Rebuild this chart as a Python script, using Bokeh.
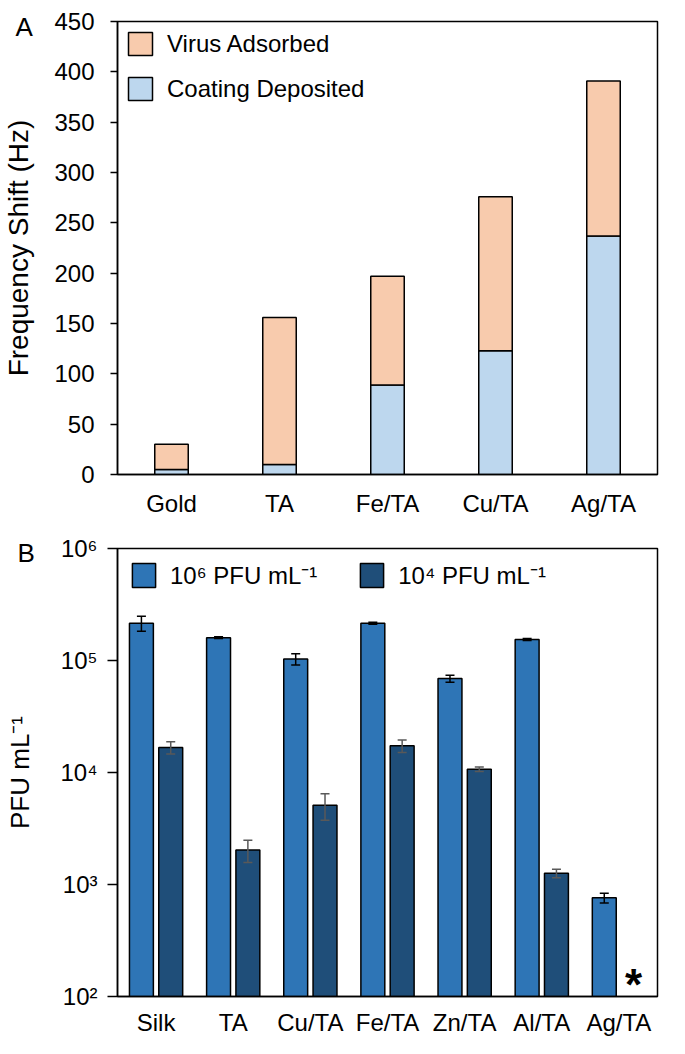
import math
from bokeh.plotting import figure
from bokeh.models import (ColumnDataSource, FixedTicker, Legend, LegendItem)
from bokeh.transform import dodge
from bokeh.layouts import column
from bokeh.embed import file_html
from bokeh.resources import INLINE
from bokeh.core.properties import value

FONT = "Liberation Sans"

# ---------------- Panel A data ----------------
a_categories = ["Gold", "TA", "Fe/TA", "Cu/TA", "Ag/TA"]
a_coating = [5, 10, 89, 123, 237]
a_virus = [25, 146, 108, 153, 154]
a_yticks = [0, 50, 100, 150, 200, 250, 300, 350, 400, 450]
a_series_labels = ["Virus Adsorbed", "Coating Deposited"]

# ---------------- Panel B data ----------------
b_categories = ["Silk", "TA", "Cu/TA", "Fe/TA", "Zn/TA", "Al/TA", "Ag/TA"]
b_high = [2.15e5, 1.60e5, 1.03e5, 2.15e5, 6.9e4, 1.54e5, 7.6e2]
b_high_err = [3.3e4, 3.0e3, 1.2e4, 4.0e3, 5.0e3, 3.0e3, 7.5e1]
b_low = [1.67e4, 2.03e3, 5.1e3, 1.73e4, 1.07e4, 1.26e3, float("nan")]
b_low_err = [2.1e3, 4.6e2, 1.35e3, 2.2e3, 5.0e2, 1.1e2, float("nan")]
b_yticks = [100, 1000, 10000, 100000, 1000000]
b_ytick_labels = ["10²", "10³", "10⁴", "10⁵", "10⁶"]
b_series_labels = ["10⁶ PFU mL⁻¹", "10⁴ PFU mL⁻¹"]

PEACH = "#F8CBAD"
LBLUE = "#BDD7EE"
BLUE6 = "#2E75B6"
BLUE4 = "#1F4E79"


def style_axes(p):
    p.xgrid.grid_line_color = None
    p.ygrid.grid_line_color = None
    p.outline_line_color = "black"
    p.outline_line_width = 1.5
    p.outline_line_alpha = 1.0
    p.background_fill_color = "white"
    p.border_fill_color = "white"
    for ax in (p.xaxis[0], p.yaxis[0]):
        ax.axis_line_color = "black"
        ax.axis_line_width = 1.5
        ax.major_tick_line_color = "black"
        ax.major_tick_line_width = 1.5
        ax.minor_tick_line_color = None
        ax.major_label_text_font = FONT
        ax.major_label_text_color = "black"
        ax.axis_label_text_font = FONT
        ax.axis_label_text_color = "black"
        ax.axis_label_text_font_style = "normal"
    p.xaxis.major_tick_in = 0
    p.xaxis.major_tick_out = 0
    p.yaxis.major_tick_in = 0


def panel_letter(p, letter, offset, standoff):
    p.title.text = letter
    p.title.align = "left"
    p.title.offset = offset
    p.title.standoff = standoff
    p.title.text_font = FONT
    p.title.text_font_size = "26px"
    p.title.text_font_style = "normal"
    p.title.text_color = "black"


# ================= Panel A =================
p1 = figure(x_range=a_categories, y_range=(a_yticks[0], a_yticks[-1]),
            width=678, height=524,
            output_backend="svg", toolbar_location=None,
            min_border_left=115, min_border_right=21, min_border_top=21,
            min_border_bottom=50)
style_axes(p1)
panel_letter(p1, "A", -102, -40)
src_a = ColumnDataSource(dict(cat=a_categories, coating=a_coating, virus=a_virus))
rs = p1.vbar_stack(["coating", "virus"], x="cat", width=0.31, source=src_a,
                   fill_color=[LBLUE, PEACH], line_color="black", line_width=1.5)
p1.yaxis.ticker = FixedTicker(ticks=a_yticks)
p1.yaxis.major_tick_out = 7
p1.yaxis.major_label_standoff = 16
p1.yaxis.major_label_text_font_size = "24px"
p1.xaxis.major_label_text_font_size = "24px"
p1.xaxis.major_label_standoff = 15
p1.yaxis.axis_label = "Frequency Shift (Hz)"
p1.yaxis.axis_label_text_font_size = "28px"
p1.yaxis.axis_label_standoff = 17

leg1 = Legend(items=[LegendItem(label=a_series_labels[0], renderers=[rs[1]]),
                     LegendItem(label=a_series_labels[1], renderers=[rs[0]])],
              location="top_left", margin=0, padding=8, spacing=16,
              glyph_width=30, glyph_height=29, label_standoff=12,
              label_text_font=FONT, label_text_font_size="24px",
              label_text_color="black",
              border_line_alpha=0, background_fill_alpha=0)
p1.add_layout(leg1)

# ================= Panel B =================
p2 = figure(x_range=b_categories, y_range=(b_yticks[0], b_yticks[-1]),
            y_axis_type="log", width=678, height=522,
            output_backend="svg", toolbar_location=None,
            min_border_left=110, min_border_right=21, min_border_top=24,
            min_border_bottom=50)
style_axes(p2)
panel_letter(p2, "B", -100, -39)

hi_lo = [v - e for v, e in zip(b_high, b_high_err)]
hi_hi = [v + e for v, e in zip(b_high, b_high_err)]
lo_lo = [v - e for v, e in zip(b_low, b_low_err)]
lo_hi = [v + e for v, e in zip(b_low, b_low_err)]
star_y = [b_yticks[0] if math.isnan(v) else float("nan") for v in b_low]
src_b = ColumnDataSource(dict(cat=b_categories, high=b_high, low=b_low,
                              hi_lo=hi_lo, hi_hi=hi_hi, lo_lo=lo_lo, lo_hi=lo_hi,
                              star_y=star_y, star=["*"] * len(b_categories)))

OFF = 0.19
x_h = dodge("cat", -OFF, range=p2.x_range)
x_l = dodge("cat", OFF, range=p2.x_range)
r6 = p2.vbar(x=x_h, top="high", bottom=b_yticks[0], width=0.31, source=src_b,
             fill_color=BLUE6, line_color="black", line_width=1.5)
r4 = p2.vbar(x=x_l, top="low", bottom=b_yticks[0], width=0.31, source=src_b,
             fill_color=BLUE4, line_color="black", line_width=1.5)

# error bars
p2.segment(x0=x_h, y0="hi_lo", x1=x_h, y1="hi_hi", source=src_b,
           line_color="black", line_width=1.5)
for col in ("hi_lo", "hi_hi"):
    p2.scatter(x=x_h, y=col, source=src_b, marker="dash", size=9,
               line_color="black", line_width=1.5)
p2.segment(x0=x_l, y0="lo_lo", x1=x_l, y1="lo_hi", source=src_b,
           line_color="#595959", line_width=1.5)
for col in ("lo_lo", "lo_hi"):
    p2.scatter(x=x_l, y=col, source=src_b, marker="dash", size=9,
               line_color="#595959", line_width=1.5)

# asterisk for the missing 10^4 Ag/TA value
p2.text(x=x_l, y="star_y", text="star", source=src_b, text_align="center",
        text_baseline="middle", y_offset=-12, text_font=value(FONT),
        text_font_size="44px", text_font_style="bold", text_color="black")

p2.yaxis.ticker = FixedTicker(ticks=b_yticks)
p2.yaxis.major_label_overrides = {t: l for t, l in zip(b_yticks, b_ytick_labels)}
p2.yaxis.major_tick_out = 10
p2.yaxis.major_label_standoff = 10
p2.yaxis.major_label_text_font_size = "24px"
p2.xaxis.major_label_text_font_size = "24px"
p2.xaxis.major_label_standoff = 12
p2.yaxis.axis_label = "PFU mL⁻¹"
p2.yaxis.axis_label_text_font_size = "26px"
p2.yaxis.axis_label_standoff = 22

leg2 = Legend(items=[LegendItem(label=b_series_labels[0], renderers=[r6]),
                     LegendItem(label=b_series_labels[1], renderers=[r4])],
              location=(12, 405), orientation="horizontal", margin=0, padding=0,
              spacing=40, glyph_width=29, glyph_height=30, label_standoff=12,
              label_text_font=FONT, label_text_font_size="24px",
              label_text_color="black",
              border_line_alpha=0, background_fill_alpha=0)
p2.add_layout(leg2)

layout = column(p1, p2)
open("out.html", "w").write(file_html(layout, INLINE))
